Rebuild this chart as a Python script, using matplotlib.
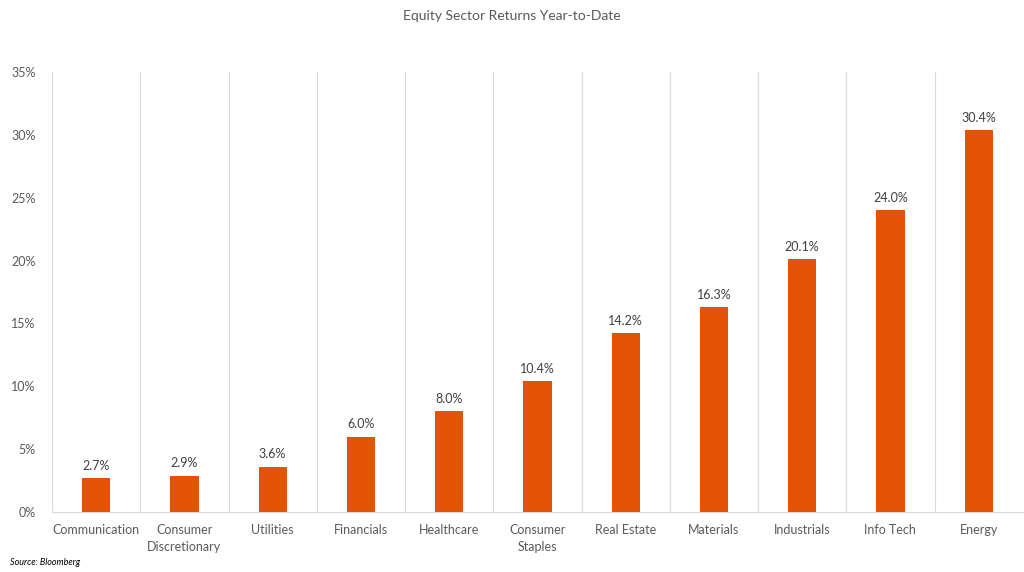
import matplotlib.pyplot as plt
import numpy as np

sectors = ['Communication', 'Consumer\nDiscretionary', 'Utilities', 'Financials', 'Healthcare',
           'Consumer\nStaples', 'Real Estate', 'Materials', 'Industrials', 'Info Tech', 'Energy']
returns = [2.7, 2.9, 3.6, 6.0, 8.0, 10.4, 14.2, 16.3, 20.1, 24.0, 30.4]
yticks = [0, 5, 10, 15, 20, 25, 30, 35]

plt.rcParams['font.family'] = ['Lato', 'DejaVu Sans']

fig = plt.figure(figsize=(10.24, 5.72), dpi=100)
ax = fig.add_axes([0.0508, 0.1049, 0.948, 0.7692])

x = np.arange(len(sectors))
ax.bar(x, returns, width=0.32, color='#E35205', zorder=3)
for xi, v in zip(x, returns):
    ax.text(xi, v + 0.5, '%.1f%%' % v, ha='center', va='bottom', fontsize=9, color='#404040')

# separators between categories
for b in np.arange(-0.5, len(sectors) + 0.5, 1):
    ax.axvline(b, color='#D9D9D9', lw=0.8, zorder=1)

ax.set_xlim(-0.5, len(sectors) - 0.5)
ax.set_ylim(0, 35)
ax.set_yticks(yticks)
ax.set_yticklabels(['%d%%' % t for t in yticks])
ax.set_xticks(x)
ax.set_xticklabels(sectors, linespacing=1.45)
ax.tick_params(axis='both', length=0, labelsize=9, colors='#595959')
ax.tick_params(axis='x', pad=9)
ax.tick_params(axis='y', pad=12)
for s in ['top', 'right', 'left']:
    ax.spines[s].set_visible(False)
ax.spines['bottom'].set_color('#D9D9D9')
ax.spines['bottom'].set_linewidth(0.8)

fig.text(0.5, 0.972, 'Equity Sector Returns Year-to-Date', ha='center', va='center',
         fontsize=10, color='#595959')
fig.text(0.010, 0.016, 'Source: Bloomberg', ha='left', va='center', fontsize=6.5,
         style='italic', color='#000000')

plt.savefig('out.png', dpi=100)
